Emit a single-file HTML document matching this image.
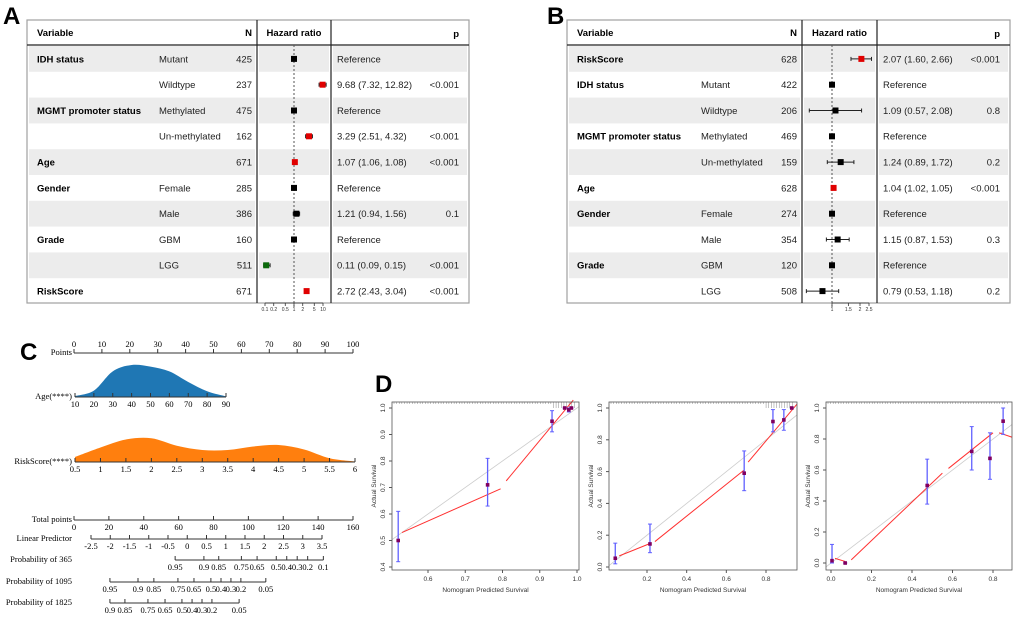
<!DOCTYPE html>
<html><head><meta charset="utf-8"><style>
html,body{margin:0;background:#fff;overflow:hidden;width:1020px;height:619px}
svg{display:block;font-family:"Liberation Sans",Arial,sans-serif}
</style></head><body>
<svg id="fig" width="1020" height="619" viewBox="0 0 1020 619" xmlns="http://www.w3.org/2000/svg"></svg>
<script>
// ---------- Panel A data ----------
const varsA=['IDH status','','MGMT promoter status','','Age','Gender','','Grade','','RiskScore'];
const levelsA=['Mutant','Wildtype','Methylated','Un-methylated','','Female','Male','GBM','LGG',''];
const nA=[425,237,475,162,671,285,386,160,511,671];
const hrA=[1,9.68,1,3.29,1.07,1,1.21,1,0.11,2.72];
const loA=[1,7.32,1,2.51,1.06,1,0.94,1,0.09,2.43];
const hiA=[1,12.82,1,4.32,1.08,1,1.56,1,0.15,3.04];
const pA=['','<0.001','','<0.001','<0.001','','0.1','','<0.001','<0.001'];
const ticksA=[0.1,0.2,0.5,1,2,5,10];
const tickLabA=['0.1','0.2','0.5','1','2','5','10'];
// ---------- Panel B data ----------
const varsB=['RiskScore','IDH status','','MGMT promoter status','','Age','Gender','','Grade',''];
const levelsB=['','Mutant','Wildtype','Methylated','Un-methylated','','Female','Male','GBM','LGG'];
const nB=[628,422,206,469,159,628,274,354,120,508];
const hrB=[2.07,1,1.09,1,1.24,1.04,1,1.15,1,0.79];
const loB=[1.60,1,0.57,1,0.89,1.02,1,0.87,1,0.53];
const hiB=[2.66,1,2.08,1,1.72,1.05,1,1.53,1,1.18];
const pB=['<0.001','','0.8','','0.2','<0.001','','0.3','','0.2'];
const ticksB=[1,1.5,2,2.5];
const tickLabB=['1','1.5','2','2.5'];
// ---------- Panel C data ----------
const pointsTicks=[0,10,20,30,40,50,60,70,80,90,100];
const ageTicks=[10,20,30,40,50,60,70,80,90];
const ageDensity=[0.03,0.2,0.8,1.0,0.95,0.8,0.47,0.18,0.02];
const riskTicks=[0.5,1,1.5,2,2.5,3,3.5,4,4.5,5,5.5,6];
const riskDensity=[0.2,0.58,0.9,0.95,0.65,0.48,0.48,0.62,0.68,0.5,0.15,0.02];
const totalTicks=[0,20,40,60,80,100,120,140,160];
const lpTicks=[-2.5,-2,-1.5,-1,-0.5,0,0.5,1,1.5,2,2.5,3,3.5];
const p365Labels=['0.95','0.9','0.85','0.75','0.65','0.5','0.4','0.3','0.2','0.1'];
const p365Pts=[58,74.5,83,96,105,116,122,128,134,143];
const p1095Labels=['0.95','0.9','0.85','0.75','0.65','0.5','0.4','0.3','0.2','0.05'];
const p1095Pts=[20.6,36.7,45.8,59.6,68.8,78.5,84.3,90,95.7,110];
const p1825Labels=['0.9','0.85','0.75','0.65','0.5','0.4','0.3','0.2','0.05'];
const p1825Pts=[20.6,29.2,42.4,52.2,61.9,67.7,73.4,79.1,94.7];
// ---------- Panel D data ----------
const cal1X=[0.52,0.76,0.933,0.967,0.978,0.985];
const cal1Y=[0.50,0.71,0.95,1.0,0.993,1.0];
const cal1Lo=[0.42,0.63,0.91,1.0,0.985,1.0];
const cal1Hi=[0.61,0.81,0.99,1.0,1.0,1.0];
const cal1LineX=[[0.53,0.795],[0.81,0.99]];
const cal1LineY=[[0.53,0.695],[0.725,1.03]];
const cal2X=[0.04,0.215,0.69,0.835,0.89,0.93];
const cal2Y=[0.055,0.145,0.59,0.915,0.925,1.0];
const cal2Lo=[0.02,0.09,0.48,0.85,0.86,1.0];
const cal2Hi=[0.15,0.27,0.73,0.99,0.99,1.0];
const cal2LineX=[[0.06,0.22],[0.24,0.69],[0.71,0.96]];
const cal2LineY=[[0.07,0.15],[0.16,0.61],[0.66,1.03]];
const cal3X=[0.005,0.07,0.475,0.695,0.785,0.85];
const cal3Y=[0.015,0.0,0.50,0.72,0.675,0.915];
const cal3Lo=[0.0,0.0,0.38,0.60,0.54,0.83];
const cal3Hi=[0.12,0.0,0.67,0.88,0.84,1.0];
const cal3LineX=[[0.02,0.07],[0.10,0.55],[0.58,0.80],[0.83,0.92]];
const cal3LineY=[[0.03,0.01],[0.02,0.58],[0.61,0.84],[0.84,0.80]];

const NS='http://www.w3.org/2000/svg';
const svg=document.getElementById('fig');
function mk(tag,attrs,name,parent,txt){
  const el=document.createElementNS(NS,tag);
  for(const k in attrs) el.setAttribute(k,attrs[k]);
  
  
  if(txt!==undefined) el.textContent=txt;
  (parent||svg).appendChild(el);
  return el;
}
function panelLetter(t,x,y){mk('text',{x:x,y:y,'font-size':24,'font-weight':'bold',fill:'#000'},'panel-label-'+t.toLowerCase(),svg,t);}

// ---------- Forest plot ----------
function forest(o){
  const g=mk('g',{},o.name);
  const top=20,hdr=45,bot=303,rh=25.8;
  const L=o.x0,R=o.x1,d1=o.d1,d2=o.d2;
  for(let i=0;i<o.vars.length;i++){
    if(i%2===0){
      const y=hdr+1+i*rh;
      mk('rect',{x:L+2,y:y,width:d1-L-4,height:rh,fill:'#ececec'},'row-shade',g);
      mk('rect',{x:d1+2,y:y,width:d2-d1-4,height:rh,fill:'#ececec'},'row-shade',g);
      mk('rect',{x:d2+2,y:y,width:R-d2-4,height:rh,fill:'#ececec'},'row-shade',g);
    }
  }
  mk('rect',{x:L,y:top,width:R-L,height:bot-top,fill:'none',stroke:'#a0a0a0','stroke-width':1.2},'table-border',g);
  mk('line',{x1:L,y1:hdr,x2:R,y2:hdr,stroke:'#222','stroke-width':1.2},'header-rule',g);
  mk('line',{x1:d1,y1:top,x2:d1,y2:bot,stroke:'#222','stroke-width':1.2},'column-divider',g);
  mk('line',{x1:d2,y1:top,x2:d2,y2:bot,stroke:'#222','stroke-width':1.2},'column-divider',g);
  const fs=9.5;
  mk('text',{x:L+10,y:36,'font-size':fs,'font-weight':'bold'},'header-variable',g,'Variable');
  mk('text',{x:d1-5,y:36,'font-size':fs,'font-weight':'bold','text-anchor':'end'},'header-n',g,'N');
  mk('text',{x:(d1+d2)/2,y:36,'font-size':fs,'font-weight':'bold','text-anchor':'middle'},'header-hazard-ratio',g,'Hazard ratio');
  mk('text',{x:R-10,y:37,'font-size':fs,'font-weight':'bold','text-anchor':'end'},'header-p',g,'p');
  const xs=v=>o.ref+Math.log10(v)*o.dec;
  mk('line',{x1:o.ref,y1:hdr,x2:o.ref,y2:bot+4,stroke:'#555','stroke-dasharray':'2,2','stroke-width':1},'reference-line',g);
  for(let i=0;i<o.vars.length;i++){
    const cy=hdr+rh*(i+0.5)+1;
    const ty=cy+3.4;
    if(o.vars[i]) mk('text',{x:L+10,y:ty,'font-size':fs,'font-weight':'bold'},'variable-label',g,o.vars[i]);
    if(o.levels[i]) mk('text',{x:o.lx,y:ty,'font-size':fs,fill:'#222'},'level-label',g,o.levels[i]);
    mk('text',{x:d1-5,y:ty,'font-size':fs,'text-anchor':'end',fill:'#222'},'n-value',g,String(o.n[i]));
    const ref=o.lo[i]===1&&o.hi[i]===1&&o.hr[i]===1;
    const txt=ref?'Reference':o.hr[i].toFixed(2)+' ('+o.lo[i].toFixed(2)+', '+o.hi[i].toFixed(2)+')';
    mk('text',{x:d2+6,y:ty,'font-size':fs,fill:'#222'},'hr-text',g,txt);
    if(o.p[i]) mk('text',{x:R-10,y:ty,'font-size':fs,'text-anchor':'end',fill:'#222'},'p-value',g,o.p[i]);
    const sig=o.p[i]==='<0.001';
    const col=sig?(o.hr[i]>1?'#e00000':'#0a6a0a'):'#000';
    if(!ref){
      mk('line',{x1:xs(o.lo[i]),y1:cy,x2:xs(o.hi[i]),y2:cy,stroke:'#222','stroke-width':1},'ci-line',g);
      mk('line',{x1:xs(o.lo[i]),y1:cy-2,x2:xs(o.lo[i]),y2:cy+2,stroke:'#222'},'ci-cap',g);
      mk('line',{x1:xs(o.hi[i]),y1:cy-2,x2:xs(o.hi[i]),y2:cy+2,stroke:'#222'},'ci-cap',g);
    }
    mk('rect',{x:xs(o.hr[i])-3,y:cy-3,width:6,height:6,fill:col},'hr-point',g);
  }
  for(let k=0;k<o.ticks.length;k++){
    const x=xs(o.ticks[k]);
    mk('line',{x1:x,y1:bot,x2:x,y2:bot+3,stroke:'#333','stroke-width':0.8},'x-tick',g);
    mk('text',{x:x,y:bot+8,'font-size':5,'text-anchor':'middle',fill:'#333'},'x-tick-label',g,o.tickLab[k]);
  }
  mk('line',{x1:xs(o.ticks[0]),y1:bot,x2:xs(o.ticks[o.ticks.length-1]),y2:bot,stroke:'#333','stroke-width':0.8},'x-axis',g);
}
panelLetter('A',3,24);
forest({name:'forest-plot-a',x0:27,x1:469,d1:257,d2:331,lx:159,ref:294,dec:29,vars:varsA,levels:levelsA,n:nA,hr:hrA,lo:loA,hi:hiA,p:pA,ticks:ticksA,tickLab:tickLabA});
panelLetter('B',547,24);
forest({name:'forest-plot-b',x0:567,x1:1010,d1:802,d2:877,lx:701,ref:832,dec:93,vars:varsB,levels:levelsB,n:nB,hr:hrB,lo:loB,hi:hiB,p:pB,ticks:ticksB,tickLab:tickLabB});

// ---------- Nomogram ----------
panelLetter('C',20,360);
const gC=mk('g',{},'nomogram');
const serif='"Liberation Serif",serif';
function axis(y,x0,x1,vals,labels,lblUp,name,title){
  const g=mk('g',{},name,gC);
  const v0=vals[0],v1=vals[vals.length-1];
  const sx=v=>x0+(v-v0)/(v1-v0)*(x1-x0);
  mk('line',{x1:x0,y1:y,x2:x1,y2:y,stroke:'#333','stroke-width':1},name+'-line',g);
  for(let i=0;i<vals.length;i++){
    const x=sx(vals[i]);
    mk('line',{x1:x,y1:y,x2:x,y2:y-4,stroke:'#333'},name+'-tick',g);
    mk('text',{x:x,y:lblUp?y-6:y+10,'font-size':8.5,'font-family':serif,'text-anchor':'middle'},name+'-tick-label',g,labels[i]);
  }
  if(title) mk('text',{x:72,y:y+2,'font-size':8.5,'font-family':serif,'text-anchor':'end'},name+'-title',g,title);
  return sx;
}
axis(353,74,353,pointsTicks,pointsTicks.map(String),true,'points-axis','Points');
function density(ticks,dens,x0,x1,base,h,color,name){
  const sx=v=>x0+(v-ticks[0])/(ticks[ticks.length-1]-ticks[0])*(x1-x0);
  const P=ticks.map((t,i)=>[sx(t),base-dens[i]*h]);
  let d='M'+P[0][0]+','+base+' L'+P[0][0]+','+P[0][1];
  for(let i=0;i<P.length-1;i++){
    const p0=P[i-1]||P[i],p1=P[i],p2=P[i+1],p3=P[i+2]||P[i+1];
    d+=' C'+(p1[0]+(p2[0]-p0[0])/6)+','+(p1[1]+(p2[1]-p0[1])/6)+' '+(p2[0]-(p3[0]-p1[0])/6)+','+(p2[1]-(p3[1]-p1[1])/6)+' '+p2[0]+','+p2[1];
  }
  d+=' L'+P[P.length-1][0]+','+base+' Z';
  mk('path',{d:d,fill:color},name,gC);
}
density(ageTicks,ageDensity,75,226,397,32,'#1f77b4','age-density');
axis(397,75,226,ageTicks,ageTicks.map(String),false,'age-axis','Age(****)');
density(riskTicks,riskDensity,75,355,462,25,'#ff7f0e','riskscore-density');
axis(462,75,355,riskTicks,riskTicks.map(String),false,'riskscore-axis','RiskScore(****)');
axis(520,74,353,totalTicks,totalTicks.map(String),false,'total-points-axis','Total points');
axis(539,91,322,lpTicks,lpTicks.map(String),false,'linear-predictor-axis','Linear Predictor');
function probAxis(y,pts,labels,name,title){
  const g=mk('g',{},name,gC);
  const xs=pts.map(p=>74+p/160*279);
  mk('line',{x1:xs[0],y1:y,x2:xs[xs.length-1],y2:y,stroke:'#333'},name+'-line',g);
  for(let i=0;i<pts.length;i++){
    mk('line',{x1:xs[i],y1:y,x2:xs[i],y2:y-4,stroke:'#333'},name+'-tick',g);
    mk('text',{x:xs[i],y:y+10,'font-size':8.5,'font-family':serif,'text-anchor':'middle'},name+'-tick-label',g,labels[i]);
  }
  mk('text',{x:72,y:y+2,'font-size':8.5,'font-family':serif,'text-anchor':'end'},name+'-title',g,title);
}
probAxis(560,p365Pts,p365Labels,'prob-365-axis','Probability of 365');
probAxis(582,p1095Pts,p1095Labels,'prob-1095-axis','Probability of 1095');
probAxis(603,p1825Pts,p1825Labels,'prob-1825-axis','Probability of 1825');

// ---------- Calibration ----------
panelLetter('D',375,392);
function calib(o){
  const g=mk('g',{},o.name);
  const sx=v=>o.xa+(v-o.vxa)/(o.vxb-o.vxa)*(o.xb-o.xa);
  const sy=v=>o.ya+(v-o.vya)/(o.vyb-o.vya)*(o.yb-o.ya);
  const cl=mk('clipPath',{id:o.name+'-clip'},'clip',g);
  mk('rect',{x:o.bx0,y:o.by0-8,width:o.bx1-o.bx0,height:o.by1-o.by0+8},'clip-rect',cl);
  const inner=mk('g',{'clip-path':'url(#'+o.name+'-clip)'},'plot-area',g);
  for(let k=0;k<70;k++){
    const x=o.bx0+2+k*(o.bx1-o.bx0-4)/70;
    mk('line',{x1:x,y1:o.by0,x2:x,y2:o.by0+(k>o.rugHi?6:2),stroke:'#888','stroke-width':0.5},'rug-tick',inner);
  }
  mk('line',{x1:sx(-0.2),y1:sy(-0.2),x2:sx(1.2),y2:sy(1.2),stroke:'#ccc','stroke-width':0.8},'ideal-line',inner);
  for(let s=0;s<o.lx.length;s++){
    const pts=o.lx[s].map((v,i)=>sx(v)+','+sy(o.ly[s][i])).join(' ');
    mk('polyline',{points:pts,fill:'none',stroke:'#ff3030','stroke-width':1},'calibration-curve',inner);
  }
  for(let i=0;i<o.px.length;i++){
    const x=sx(o.px[i]);
    mk('line',{x1:x,y1:sy(o.lo[i]),x2:x,y2:sy(o.hi[i]),stroke:'#6060ff','stroke-width':1.3},'error-bar',inner);
    mk('line',{x1:x-2,y1:sy(o.lo[i]),x2:x+2,y2:sy(o.lo[i]),stroke:'#6060ff'},'error-cap',inner);
    mk('line',{x1:x-2,y1:sy(o.hi[i]),x2:x+2,y2:sy(o.hi[i]),stroke:'#6060ff'},'error-cap',inner);
    mk('rect',{x:x-1.8,y:sy(o.py[i])-1.8,width:3.6,height:3.6,fill:'#800060'},'calibration-point',inner);
  }
  mk('rect',{x:o.bx0,y:o.by0,width:o.bx1-o.bx0,height:o.by1-o.by0,fill:'none',stroke:'#555','stroke-width':0.8},'plot-box',g);
  o.xt.forEach(v=>{const x=sx(v);
    mk('line',{x1:x,y1:o.by1,x2:x,y2:o.by1+3,stroke:'#555'},'x-tick',g);
    mk('text',{x:x,y:o.by1+11,'font-size':6.5,'text-anchor':'middle',fill:'#333'},'x-tick-label',g,v.toFixed(1));});
  o.yt.forEach(v=>{const y=sy(v);
    mk('line',{x1:o.bx0,y1:y,x2:o.bx0-3,y2:y,stroke:'#555'},'y-tick',g);
    mk('text',{x:o.bx0-7,y:y,'font-size':6.5,'text-anchor':'middle',fill:'#333',transform:'rotate(-90 '+(o.bx0-7)+' '+y+')'},'y-tick-label',g,v.toFixed(1));});
  mk('text',{x:(o.bx0+o.bx1)/2,y:o.by1+22,'font-size':6.5,'text-anchor':'middle',fill:'#333'},'x-axis-title',g,'Nomogram Predicted Survival');
  const yc=(o.by0+o.by1)/2;
  mk('text',{x:o.bx0-16,y:yc,'font-size':6.5,'text-anchor':'middle',fill:'#333',transform:'rotate(-90 '+(o.bx0-16)+' '+yc+')'},'y-axis-title',g,'Actual Survival');
}
calib({name:'calibration-365',bx0:392,bx1:579,by0:402,by1:570,xa:428,xb:577,vxa:0.6,vxb:1.0,ya:408,yb:567,vya:1.0,vyb:0.4,rugHi:60,
  px:cal1X,py:cal1Y,lo:cal1Lo,hi:cal1Hi,lx:cal1LineX,ly:cal1LineY,xt:[0.6,0.7,0.8,0.9,1.0],yt:[0.4,0.5,0.6,0.7,0.8,0.9,1.0]});
calib({name:'calibration-1095',bx0:609,bx1:797,by0:402,by1:570,xa:647,xb:766,vxa:0.2,vxb:0.8,ya:408,yb:567,vya:1.0,vyb:0.0,rugHi:58,
  px:cal2X,py:cal2Y,lo:cal2Lo,hi:cal2Hi,lx:cal2LineX,ly:cal2LineY,xt:[0.2,0.4,0.6,0.8],yt:[0,0.2,0.4,0.6,0.8,1.0]});
calib({name:'calibration-1825',bx0:826,bx1:1012,by0:402,by1:570,xa:831,xb:993,vxa:0.0,vxb:0.8,ya:408,yb:563,vya:1.0,vyb:0.0,rugHi:99,
  px:cal3X,py:cal3Y,lo:cal3Lo,hi:cal3Hi,lx:cal3LineX,ly:cal3LineY,xt:[0,0.2,0.4,0.6,0.8],yt:[0,0.2,0.4,0.6,0.8,1.0]});
</script>
</body></html>
